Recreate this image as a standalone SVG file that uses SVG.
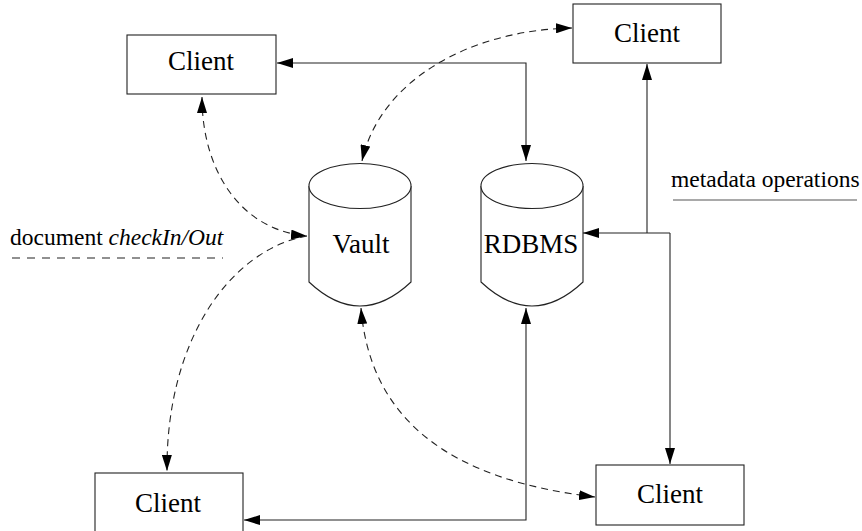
<svg xmlns="http://www.w3.org/2000/svg" width="862" height="531" viewBox="0 0 862 531">
<style>
.box{fill:#fff;stroke:#222;stroke-width:1.1}
.cyl{fill:#fff;stroke:#222;stroke-width:1.1}
.lbl{font-family:'Times New Roman','Liberation Serif',Times,'DejaVu Serif',serif;font-size:27px;fill:#000;text-anchor:middle}
.note{font-family:'Times New Roman','Liberation Serif',Times,'DejaVu Serif',serif;font-size:23.5px;fill:#000}
.solid{fill:none;stroke:#222;stroke-width:1.1}
.dash{fill:none;stroke:#222;stroke-width:1.1;stroke-dasharray:7 5}
</style>
<defs>
<marker id="ah" viewBox="0 0 16 10" refX="16" refY="5" markerWidth="16" markerHeight="10" markerUnits="userSpaceOnUse" orient="auto-start-reverse">
<path d="M0,0 L16,5 L0,10 z" fill="#000"/>
</marker>
</defs>
<rect width="862" height="531" fill="#fff"/>
<g id="connectors">
<path class="solid" d="M526,161 V63 H277" marker-start="url(#ah)" marker-end="url(#ah)"/>
<path class="solid" d="M647,233 V64"  marker-end="url(#ah)"/>
<path class="solid" d="M670,233 H583" marker-end="url(#ah)"/>
<path class="solid" d="M670,233 V464" marker-end="url(#ah)"/>
<path class="solid" d="M244,520 H526 V308" marker-start="url(#ah)" marker-end="url(#ah)"/>
<path class="dash" d="M202,97 C202,170 240,230 307,236" marker-start="url(#ah)" marker-end="url(#ah)"/>
<path class="dash" d="M307,236 C230,250 166,340 167,471" marker-end="url(#ah)"/>
<path class="dash" d="M572,28 C470,30 380,80 362,161" marker-start="url(#ah)" marker-end="url(#ah)"/>
<path class="dash" d="M361,308 C370,420 450,480 595,497" marker-start="url(#ah)" marker-end="url(#ah)"/>
</g>
<g id="client-tl"><rect class="box" x="127" y="35" width="149" height="59"/><text class="lbl" x="201" y="70">Client</text></g>
<g id="client-tr"><rect class="box" x="573" y="4" width="148" height="59"/><text class="lbl" x="647" y="42">Client</text></g>
<g id="client-bl"><rect class="box" x="95" y="473" width="148" height="60"/><text class="lbl" x="168" y="512">Client</text></g>
<g id="client-br"><rect class="box" x="596" y="465" width="148" height="60"/><text class="lbl" x="670" y="503">Client</text></g>
<g id="vault">
<path class="cyl" d="M309,186 V282 Q360,330 411,282 V186"/>
<ellipse class="cyl" cx="360" cy="186" rx="51" ry="22.5"/>
<text class="lbl" x="361" y="253">Vault</text>
</g>
<g id="rdbms">
<path class="cyl" d="M481,186 V282 Q532,330 583,282 V186"/>
<ellipse class="cyl" cx="532" cy="186" rx="51" ry="22.5"/>
<text class="lbl" x="531" y="253">RDBMS</text>
</g>
<g id="label-doc">
<text class="note" x="10" y="245">document <tspan font-style="italic">checkIn/Out</tspan></text>
<line class="dash" x1="12" y1="258" x2="223" y2="258" style="stroke-dasharray:8 7"/>
</g>
<g id="label-meta">
<text class="note" x="671" y="187">metadata operations</text>
<line class="solid" x1="673" y1="200" x2="857" y2="200" style="stroke:#555"/>
</g>
</svg>
